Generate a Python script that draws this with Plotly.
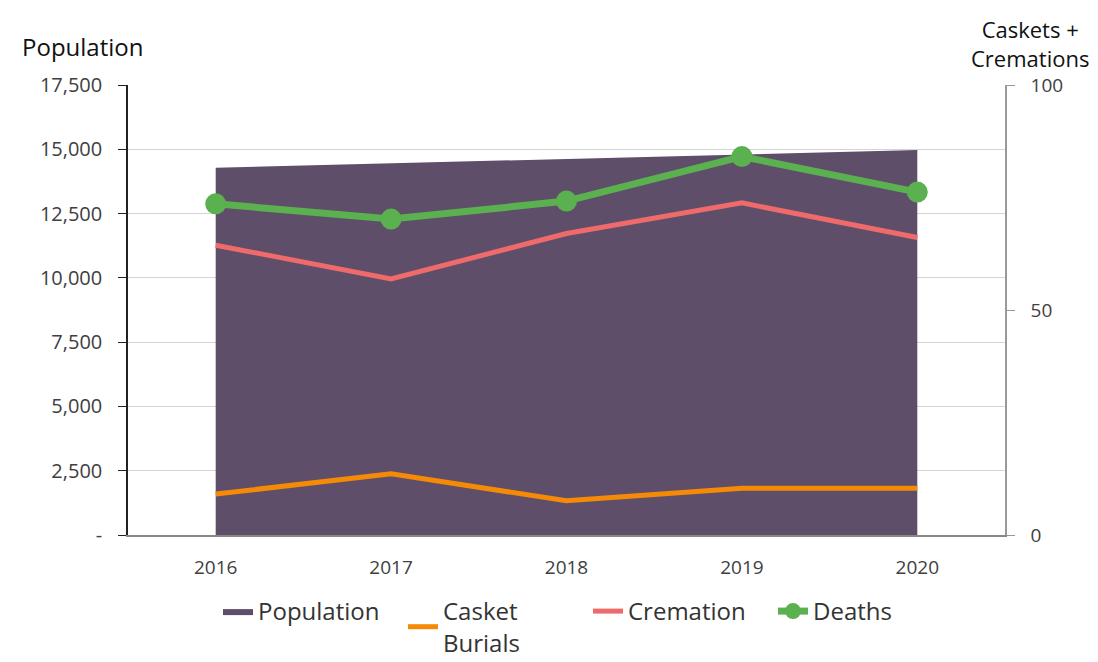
import plotly.graph_objects as go

years = ["2016", "2017", "2018", "2019", "2020"]
population = [14280, 14450, 14620, 14800, 14970]
casket_burials = [9.1, 13.6, 7.6, 10.4, 10.4]
cremation = [64.4, 56.9, 67.0, 73.8, 66.1]
deaths = [73.6, 70.2, 74.2, 84.1, 76.2]

left_ticks = [0, 2500, 5000, 7500, 10000, 12500, 15000, 17500]
left_ticktext = ["-", "2,500", "5,000", "7,500", "10,000", "12,500", "15,000", "17,500"]
right_ticks = [0, 50, 100]

FONT = "Open Sans"
TICKC = "#404040"

fig = go.Figure()
fig.add_trace(go.Scatter(
    x=years, y=population, name="Population", mode="lines",
    fill="tozeroy", fillcolor="rgb(94,78,105)", line=dict(width=0, color="rgb(94,78,105)"),
    yaxis="y"))
fig.add_trace(go.Scatter(
    x=years, y=casket_burials, name="Casket<br>Burials", mode="lines",
    line=dict(color="#F58A07", width=5), yaxis="y2"))
fig.add_trace(go.Scatter(
    x=years, y=cremation, name="Cremation", mode="lines",
    line=dict(color="#EF6A6A", width=5), yaxis="y2"))
fig.add_trace(go.Scatter(
    x=years, y=deaths, name="Deaths", mode="lines+markers",
    line=dict(color="#5BB04F", width=7), marker=dict(size=21, color="#5BB04F"),
    yaxis="y2"))

# page body has an 8px margin: figure origin sits at (8, 8) in the screenshot
OFF = 8
W, H = 1098 - OFF, 662 - OFF
pl, pr, pt, pb = 128 - OFF, 1005 - OFF, 85 - OFF, 535 - OFF
def px_to_paper(x, y):
    x -= OFF
    y -= OFF
    return (x - pl) / (pr - pl), (pb - y) / (pb - pt)

ax, ay = px_to_paper(82, 46)
bx, by = px_to_paper(1030, 43)
lx, ly = px_to_paper(218, 589)

fig.update_layout(
    width=W, height=H,
    margin=dict(l=pl, r=W - pr, t=pt, b=H - pb, autoexpand=False),
    paper_bgcolor="white", plot_bgcolor="white",
    font=dict(family=FONT, color="#333333"),
    showlegend=True,
    legend=dict(orientation="h", x=lx, xanchor="left", y=ly, yanchor="top",
                font=dict(size=24, color="#333333"),
                traceorder="normal", entrywidth=140, itemwidth=30),
    xaxis=dict(type="category", range=[-0.5, 4.5], showgrid=False, automargin=False,
               showline=True, linecolor="#888888", linewidth=1.5,
               ticks="", ticklabelstandoff=14, tickfont=dict(size=19, color=TICKC)),
    yaxis=dict(range=[0, 17500], tickvals=left_ticks, ticktext=left_ticktext, automargin=False,
               showgrid=True, gridcolor="#D4D4D4", gridwidth=1,
               showline=True, linecolor="#222222", linewidth=1.5,
               ticks="outside", ticklen=8, tickcolor="#222222", ticklabelstandoff=12,
               tickfont=dict(size=20, color=TICKC), zeroline=False),
    yaxis2=dict(range=[0, 100], tickvals=right_ticks, overlaying="y", side="right",
                automargin=False,
                showgrid=False, showline=True, linecolor="#999999", linewidth=1.5,
                ticks="outside", ticklen=8, tickcolor="#999999", ticklabelstandoff=12,
                tickfont=dict(size=19, color=TICKC), zeroline=False),
    annotations=[
        dict(text="Population", x=ax, y=ay, xref="paper", yref="paper", showarrow=False,
             xanchor="center", yanchor="middle",
             font=dict(size=24, color="#111111", family=FONT)),
        dict(text="Caskets +<br>Cremations", x=bx, y=by, xref="paper", yref="paper",
             showarrow=False, xanchor="center", yanchor="middle", align="center",
             font=dict(size=22, color="#111111", family=FONT)),
    ],
)

fig.write_html("out.html")
